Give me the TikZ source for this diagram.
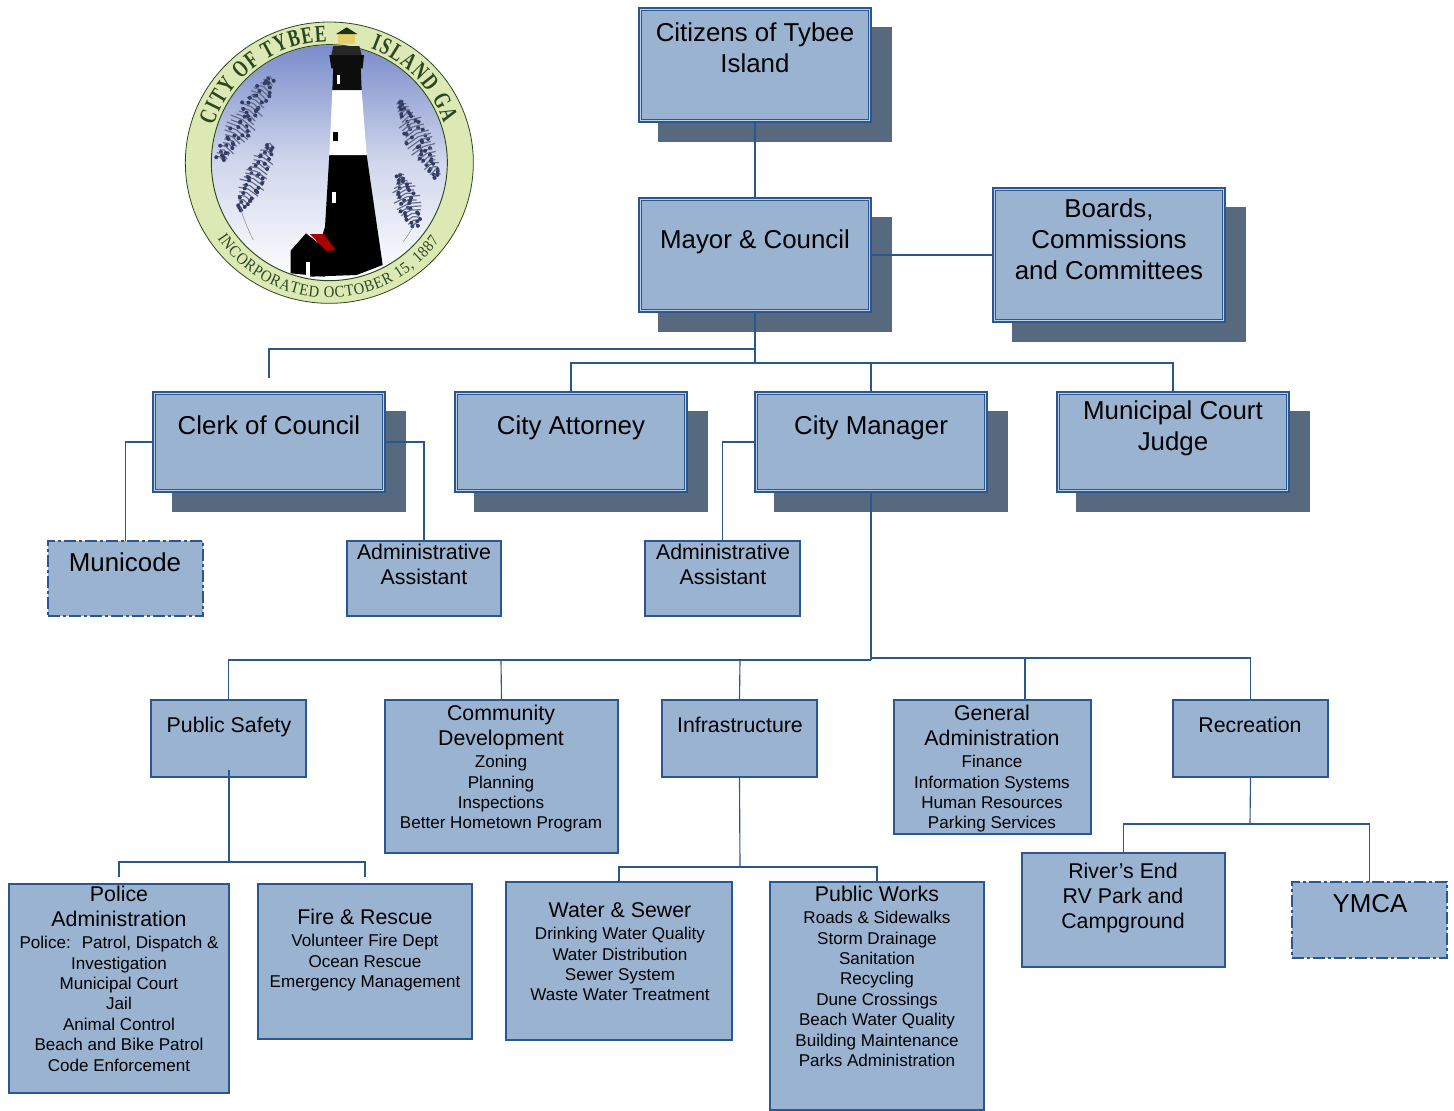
\documentclass[tikz,border=0pt]{standalone}
\usepackage{fontspec}
\setmainfont{Liberation Sans}
\newfontfamily\serifl[FakeStretch=0.72]{Liberation Serif Bold}
\newfontfamily\serifb[FakeStretch=0.9]{Liberation Serif}
\usetikzlibrary{decorations.text,calc}
\definecolor{boxfill}{HTML}{9AB3D1}
\definecolor{boxline}{HTML}{2B5790}
\definecolor{shadowc}{HTML}{57697F}
\definecolor{gapc}{HTML}{BFD0E4}
\definecolor{ringg}{HTML}{DDE9B4}
\definecolor{darkg}{HTML}{2C4720}
\definecolor{skyc}{HTML}{7A8CCB}
\definecolor{grassc}{HTML}{333D63}
\definecolor{goldc}{HTML}{E5CF6A}
\newcommand{\fb}{\fontsize{19.4}{23.25}\selectfont\rule[-7.75pt]{0pt}{23.25pt}}
\newcommand{\fm}{\fontsize{16}{18.75}\selectfont\rule[-6.25pt]{0pt}{18.75pt}}
\newcommand{\fs}{\fontsize{12.8}{15.3}\selectfont\rule[-5.3pt]{0pt}{15.3pt}}
\tikzset{
 boxbase/.style={rectangle,fill=boxfill,draw=boxline,inner sep=0pt,outer sep=0pt},
 plainbox/.style={boxbase,line width=0.85pt},
 dbox/.style={boxbase,line width=1pt,double=gapc,double distance=1.1pt},
 dashbox/.style={boxbase,line width=0.95pt,dash pattern=on 9pt off 2.25pt on 2.25pt off 2.25pt},
 shadowbox/.style={fill=shadowc},
 txt/.style={anchor=north,align=center,inner sep=0pt,text=black},
 conn/.style={draw=boxline,line width=0.85pt},
 heavy/.style={draw=boxline,line width=1.25pt},
}
% name, x1,y1,x2,y2, style
\newcommand{\bx}[6]{\node[#6,minimum width={(#4-#2)*0.75pt},minimum height={(#5-#3)*0.75pt}] (#1) at ({(#2+#4)/2},{(#3+#5)/2}) {};}
\newcommand{\sbx}[5]{\fill[shadowbox] ({#2+18.5},{#3+19}) rectangle ({#4+20.5},{#5+20}); \node[dbox,minimum width={(#4-#2-2.6)*0.75pt},minimum height={(#5-#3-2.6)*0.75pt}] (#1) at ({(#2+#4)/2},{(#3+#5)/2}) {};}
\newcommand{\tx}[4]{\node[txt] (#1) at (#2,#3) {#4};}
\begin{document}
\lineskip=0pt
\begin{tikzpicture}[x=0.75pt,y=-0.75pt]
\useasboundingbox (0,0) rectangle (1454,1111);
% ---------- logo
\begin{scope}[shift={(170,10)},x=0.25pt,y=-0.25pt]
 \fill[ringg,draw=darkg,line width=0.6pt] (478,458) ellipse [x radius=432,y radius=422];
 \shade[top color=skyc,bottom color=white,middle color=skyc!35!white,draw=none] (478,458) circle [radius=352];
 \draw[darkg,line width=0.7pt] (478,458) circle [radius=354];
 % grass
 \pgfmathsetseed{7}
 \foreach \ax/\ay/\qx/\qy/\n in {300/200/150/440/24,300/400/210/590/18,690/270/800/490/22,690/490/735/640/15}{
  \foreach \i in {0,...,\n}{
   \pgfmathsetmacro{\t}{\i/\n}
   \pgfmathsetmacro{\px}{\ax+(\qx-\ax)*\t}
   \pgfmathsetmacro{\py}{\ay+(\qy-\ay)*\t}
   \pgfmathsetmacro{\w}{(12+26*sin(180*\t))*(0.7+0.5*rnd)}
   \pgfmathsetmacro{\len}{veclen(\qx-\ax,\qy-\ay)}
   \pgfmathsetmacro{\nx}{(\qy-\ay)/\len*\w}
   \pgfmathsetmacro{\ny}{-(\qx-\ax)/\len*\w}
   \draw[grassc!75!white,line width=0.9pt] ({\px-\nx},{\py-\ny+8}) -- (\px,\py) -- ({\px+\nx},{\py+\ny+8});
   \fill[grassc] ({\px-\nx*rnd},{\py-\ny*rnd+8}) circle [radius=6];
   \fill[grassc] ({\px+\nx*rnd},{\py+\ny*rnd+8}) circle [radius=6];
  }
 }
 \draw[grassc!70!white,line width=0.3pt] (210,590) .. controls (225,640) and (240,670) .. (250,690);
 \draw[grassc!70!white,line width=0.3pt] (735,640) .. controls (725,660) and (710,680) .. (700,695);
 % lighthouse
 \fill[black] (478,435) -- (590,435) -- (638,765) -- (560,795) -- (420,800) -- (465,650) -- cycle;
 \fill[white] (487,240) -- (575,240) -- (590,435) -- (478,435) -- cycle;
 \fill[black!95] (490,170) -- (572,170) -- (575,240) -- (487,240) -- cycle;
 \fill[black!95] (478,135) -- (582,135) -- (578,175) -- (484,175) -- cycle;
 \fill[black!85] (490,108) -- (568,108) -- (575,135) -- (484,135) -- cycle;
 \fill[goldc] (505,72) rectangle (555,102);
 \fill[darkg!70!black] (498,72) -- (530,52) -- (562,72) -- cycle;
 \fill[white] (500,195) rectangle (510,222);
 \fill[white] (486,545) rectangle (498,578);
 \fill[black] (490,365) rectangle (504,392);
 % house
 \fill[black] (362,722) -- (408,670) -- (465,715) -- (465,800) -- (362,790) -- cycle;
 \fill[red!65!black] (420,672) -- (462,672) -- (497,720) -- (470,724) -- cycle;
 \fill[white] (407,755) rectangle (420,798);
\end{scope}
\begin{scope}[shift={(329,163)},x=1pt,y=1pt]
 \path[decorate,decoration={text along path,text align={fit to path},text={|\serifl\fontsize{18}{18}\selectfont\color{darkg}|CITY OF TYBEE}}] (162:91pt) arc [start angle=162,end angle=91,radius=91pt];
 \path[decorate,decoration={text along path,text align={fit to path},text={|\serifl\fontsize{18}{18}\selectfont\color{darkg}|ISLAND GA}}] (70:91pt) arc [start angle=70,end angle=19,radius=91pt];
 \path[decorate,decoration={text along path,text align={fit to path},text={|\serifb\fontsize{12.2}{12.2}\selectfont\color{darkg}|INCORPORATED OCTOBER 15, 1887}}] (214:101pt) arc [start angle=214,end angle=325,radius=101pt];
\end{scope}
% ---------- boxes
\sbx{citizens}{639}{8}{871}{122}
\sbx{mayor}{639}{198}{871}{312}
\sbx{boards}{993}{188}{1225}{322}
\sbx{clerk}{153}{392}{385}{492}
\sbx{attorney}{455}{392}{687}{492}
\sbx{manager}{755}{392}{987}{492}
\sbx{judge}{1057}{392}{1289}{492}
\bx{municode}{48}{541}{203}{616}{dashbox}
\bx{adminA}{347}{541}{501}{616}{plainbox}
\bx{adminB}{645}{541}{800}{616}{plainbox}
\bx{safety}{151}{700}{306}{777}{plainbox}
\bx{community}{385}{700}{618}{853}{plainbox}
\bx{infra}{662}{700}{817}{777}{plainbox}
\bx{general}{894}{700}{1091}{834}{plainbox}
\bx{recreation}{1173}{700}{1328}{777}{plainbox}
\bx{police}{9}{884}{229}{1093}{plainbox}
\bx{fire}{258}{884}{472}{1039}{plainbox}
\bx{water}{506}{882}{732}{1040}{plainbox}
\bx{works}{770}{882}{984}{1110}{plainbox}
\bx{river}{1022}{853}{1225}{967}{plainbox}
\bx{ymca}{1292}{882}{1447}{958}{dashbox}
% ---------- free ends and junctions
\coordinate (clerkEnd) at (269,378);
\coordinate (policeEnd) at (119,877);
\coordinate (fireEnd) at (365,877);
\coordinate (safetyIn) at (229,770);
\coordinate (mgrBus) at (871,660);
% ---------- connectors
\draw[conn] (citizens.south) -- (mayor.north);
\draw[conn] (mayor.east) -- (boards.west);
\draw[conn] (mayor.south) -- (755,349) -| (clerkEnd);
\draw[conn] (mayor.south) -- (755,363);
\draw[conn] (attorney.north) |- (755,363) -| (judge.north);
\draw[conn] (manager.north) -- (871,363);
\draw[conn] (clerk.west |- 0,442) -| (municode.north);
\draw[conn] (clerk.east |- 0,442) -| (adminA.north);
\draw[conn] (manager.west |- 0,442) -| (adminB.north);
\draw[heavy] (manager.south) -- (mgrBus);
\draw[conn] (mgrBus) -| (safety.north);
\draw[conn] (community.north) -- (501,660);
\draw[conn] (infra.north) -- (740,660);
\draw[conn] (871,658) -| (recreation.north);
\draw[conn] (1025,658) -- (1025,700);
\draw[heavy] (safetyIn) -- (229,862);
\draw[conn] (policeEnd) |- (229,862) -| (fireEnd);
\draw[conn] (infra.south) -- (740,867);
\draw[conn] (water.north) |- (740,867) -| (works.north);
\draw[conn] (recreation.south) -- (1250,824);
\draw[conn] (river.north) |- (1250,824) -| (ymca.north);
% ---------- text
\tx{tCitizens}{755}{20.3}{\fb Citizens of Tybee\\\fb Island}
\tx{tMayor}{755}{227.3}{\fb Mayor \& Council}
\tx{tBoards}{1109}{196.3}{\fb Boards,\\\fb Commissions\\\fb and Committees}
\tx{tClerk}{269}{413.3}{\fb Clerk of Council}
\tx{tAttorney}{571}{413.3}{\fb City Attorney}
\tx{tManager}{871}{413.3}{\fb City Manager}
\tx{tJudge}{1173}{398.3}{\fb Municipal Court\\\fb Judge}
\tx{tMunicode}{125}{550.3}{\fb Municode}
\tx{tAdminA}{424}{543}{\fm Administrative\\\fm Assistant}
\tx{tAdminB}{723}{543}{\fm Administrative\\\fm Assistant}
\tx{tSafety}{229}{716}{\fm Public Safety}
\tx{tCommunity}{501}{704}{\fm Community\\\fm Development\\\fs Zoning\\\fs Planning\\\fs Inspections\\\fs Better Hometown Program}
\tx{tInfra}{740}{716}{\fm Infrastructure}
\tx{tGeneral}{992}{704}{\fm General\\\fm Administration\\\fs Finance\\\fs Information Systems\\\fs Human Resources\\\fs Parking Services}
\tx{tRecreation}{1250}{716}{\fm Recreation}
\tx{tPolice}{119}{885}{\fm Police\\\fm Administration\\\fs Police:~ Patrol, Dispatch \&\\\fs Investigation\\\fs Municipal Court\\\fs Jail\\\fs Animal Control\\\fs Beach and Bike Patrol\\\fs Code Enforcement}
\tx{tFire}{365}{908}{\fm Fire \& Rescue\\\fs Volunteer Fire Dept\\\fs Ocean Rescue\\\fs Emergency Management}
\tx{tWater}{620}{901}{\fm Water \& Sewer\\\fs Drinking Water Quality\\\fs Water Distribution\\\fs Sewer System\\\fs Waste Water Treatment}
\tx{tWorks}{877}{885}{\fm Public Works\\\fs Roads \& Sidewalks\\\fs Storm Drainage\\\fs Sanitation\\\fs Recycling\\\fs Dune Crossings\\\fs Beach Water Quality\\\fs Building Maintenance\\\fs Parks Administration}
\tx{tRiver}{1123}{862}{\fm River’s End\\\fm RV Park and\\\fm Campground}
\tx{tYmca}{1370}{891.5}{\fb YMCA}
\end{tikzpicture}
\end{document}
